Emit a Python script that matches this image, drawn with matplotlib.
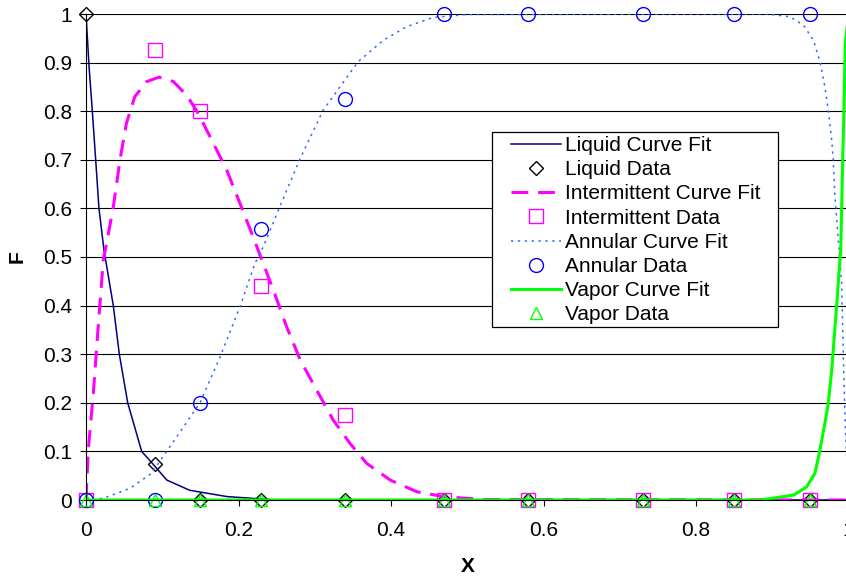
import numpy as np
import matplotlib
matplotlib.use("Agg")
import matplotlib.pyplot as plt
from matplotlib.patches import Rectangle

plt.rcParams["font.family"] = ["Liberation Sans", "DejaVu Sans"]

# ---------------- data points ----------------
x_data = [0.0, 0.09, 0.15, 0.23, 0.34, 0.47, 0.58, 0.73, 0.85, 0.95]
liquid_data = [1.0, 0.075, 0.0, 0.0, 0.0, 0.0, 0.0, 0.0, 0.0, 0.0]
interm_data = [0.0, 0.925, 0.80, 0.44, 0.175, 0.0, 0.0, 0.0, 0.0, 0.0]
annular_data = [0.0, 0.0, 0.20, 0.558, 0.825, 1.0, 1.0, 1.0, 1.0, 1.0]
vapor_data = [0.0, 0.0, 0.0, 0.0, 0.0, 0.0, 0.0, 0.0, 0.0, 0.0]

# ---------------- curve fits ----------------
liquid_fit_x = [0.0, 0.0041, 0.0083, 0.0127, 0.017, 0.0236, 0.0358, 0.0437, 0.0547,
                0.073, 0.09, 0.106, 0.136, 0.185, 0.25, 1.0]
liquid_fit_y = [1.0, 0.89, 0.80, 0.70, 0.60, 0.514, 0.40, 0.30, 0.20,
                0.10, 0.07, 0.041, 0.02, 0.007, 0.0, 0.0]

interm_fit_x = [0.0, 0.003, 0.0096, 0.016, 0.0227, 0.027, 0.0358, 0.0446, 0.053,
                0.064, 0.0796, 0.0957, 0.1145, 0.132, 0.147, 0.167, 0.1845,
                0.202, 0.219, 0.2457, 0.263, 0.281, 0.3026, 0.324, 0.346,
                0.368, 0.399, 0.434, 0.469, 0.52, 1.0]
interm_fit_y = [0.0, 0.103, 0.22, 0.357, 0.494, 0.528, 0.603, 0.70, 0.775,
                0.83, 0.861, 0.87, 0.861, 0.833, 0.796, 0.734, 0.679,
                0.61, 0.542, 0.432, 0.357, 0.288, 0.226, 0.165, 0.117,
                0.0755, 0.041, 0.017, 0.007, 0.001, 0.0]

annular_fit_x = [0.0, 0.0227, 0.0577, 0.086, 0.119, 0.1495, 0.176, 0.202,
                 0.2216, 0.2325, 0.254, 0.281, 0.311, 0.333, 0.357, 0.39,
                 0.4206, 0.4555, 0.50, 0.893, 0.923, 0.941, 0.954, 0.9626,
                 0.969, 0.9735, 0.978, 0.98, 0.982, 0.9866, 0.991, 0.993,
                 0.9954, 1.0]
annular_fit_y = [0.0, 0.0035, 0.024, 0.055, 0.13, 0.20, 0.295, 0.398,
                 0.487, 0.521, 0.603, 0.703, 0.802, 0.85, 0.902, 0.946,
                 0.974, 0.993, 0.999, 1.0, 0.9945, 0.977, 0.946, 0.902,
                 0.85, 0.802, 0.74, 0.70, 0.631, 0.535, 0.446, 0.309,
                 0.171, 0.0]

vapor_fit_x = [0.0, 0.884, 0.928, 0.945, 0.956, 0.9626, 0.969, 0.9735, 0.978,
               0.982, 0.985, 0.988, 0.9898, 0.991, 0.9924, 0.994, 0.9958, 1.0]
vapor_fit_y = [0.0, 0.0, 0.01, 0.027, 0.055, 0.103, 0.158, 0.199, 0.267,
               0.35, 0.41, 0.48, 0.514, 0.597, 0.70, 0.802, 0.94, 1.0]

x_ticks = [0, 0.2, 0.4, 0.6, 0.8, 1]
y_ticks = [0, 0.1, 0.2, 0.3, 0.4, 0.5, 0.6, 0.7, 0.8, 0.9, 1]


def fmt(v):
    return "%g" % v


fig = plt.figure(figsize=(8.46, 5.77), dpi=100)
ax = fig.add_axes([86 / 846, 77 / 577, 762.5 / 846, 486 / 577])

for yv in y_ticks[1:]:
    ax.axhline(yv, color="black", lw=0.8, zorder=0)

ax.plot(liquid_fit_x, liquid_fit_y, color="#000080", lw=1.1, label="Liquid Curve Fit")
ax.plot(x_data, liquid_data, ls="none", marker="D", ms=6.8, mfc="none",
        mec="black", mew=1.0, clip_on=False, label="Liquid Data")
ax.plot(interm_fit_x, interm_fit_y, color="#FF00FF", lw=2.2, dashes=(5.5, 3.2),
        label="Intermittent Curve Fit")
ax.plot(x_data, interm_data, ls="none", marker="s", ms=9.5, mfc="none",
        mec="#FF00FF", mew=1.0, clip_on=False, label="Intermittent Data")
ax.plot(annular_fit_x, annular_fit_y, color="#3366FF", lw=1.1, dashes=(1.5, 3.0),
        label="Annular Curve Fit")
ax.plot(x_data, annular_data, ls="none", marker="o", ms=10, mfc="none",
        mec="#0000FF", mew=1.0, clip_on=False, label="Annular Data")
ax.plot(vapor_fit_x, vapor_fit_y, color="#00FF00", lw=2.2, label="Vapor Curve Fit")
ax.plot(x_data, vapor_data, ls="none", marker="^", ms=9, mfc="none",
        mec="#00FF00", mew=1.0, clip_on=False, label="Vapor Data")

ax.set_xlim(0, 1)
ax.set_ylim(0, 1)
ax.set_xticks(x_ticks)
ax.set_xticklabels([fmt(v) for v in x_ticks])
ax.set_yticks(y_ticks)
ax.set_yticklabels([fmt(v) for v in y_ticks])
ax.tick_params(axis="both", direction="out", length=4, width=0.8, labelsize=15)
ax.tick_params(axis="x", pad=11)
ax.tick_params(axis="y", pad=6)

for side in ["top", "right"]:
    ax.spines[side].set_visible(False)
ax.spines["left"].set_linewidth(0.8)
ax.spines["bottom"].set_linewidth(0.8)

ax.set_xlabel("X", fontsize=15, fontweight="bold", labelpad=12)
ax.set_ylabel("F", fontsize=15, fontweight="bold", labelpad=12)

# legend box drawn separately (wider side padding than top/bottom)
box = Rectangle((0.5325, 0.356), 0.375, 0.401, transform=ax.transAxes,
                facecolor="white", edgecolor="black", lw=0.9, zorder=4)
ax.add_patch(box)
leg = ax.legend(loc="upper left", bbox_to_anchor=(0.557, 0.749), fontsize=15,
                frameon=False, handlelength=2.4, labelspacing=0.25,
                borderpad=0, handletextpad=0.2, borderaxespad=0)
leg.set_zorder(5)

fig.savefig("out.png", dpi=100)
